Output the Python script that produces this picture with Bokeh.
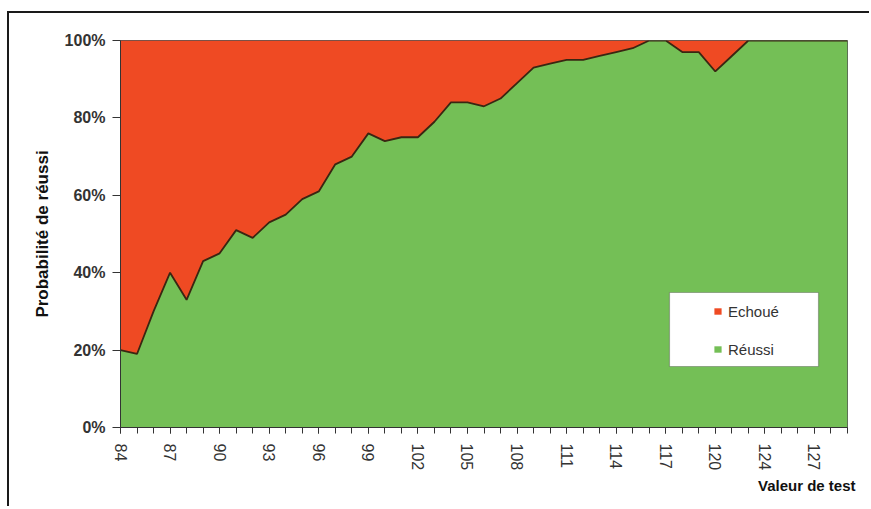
from bokeh.plotting import figure
from bokeh.models import (Range1d, FixedTicker, Legend, LegendItem, BoxAnnotation,
                          Title, PrintfTickFormatter)
from bokeh.embed import file_html
from bokeh.resources import INLINE

# ---- data -------------------------------------------------------------
categories = list(range(84, 121)) + [121, 122] + list(range(124, 130))
reussi = [20, 19, 30, 40, 33, 43, 45, 51, 49, 53, 55, 59, 61, 68, 70, 76, 74, 75,
          75, 79, 84, 84, 83, 85, 89, 93, 94, 95, 95, 96, 97, 98, 100, 100, 97, 97,
          92, 96, 100, 100, 100, 100, 100, 100, 100]
echoue = [80, 81, 70, 60, 67, 57, 55, 49, 51, 47, 45, 41, 39, 32, 30, 24, 26, 25,
          25, 21, 16, 16, 17, 15, 11, 7, 6, 5, 5, 4, 3, 2, 0, 0, 3, 3,
          8, 4, 0, 0, 0, 0, 0, 0, 0]
series_names = ["Echoué", "Réussi"]
y_ticks = [0, 20, 40, 60, 80, 100]
label_step = 3

FONT = "Liberation Sans"
RED = "#EF4A23"
GREEN = "#74BF56"

x = list(range(len(categories)))
bottom = [0] * len(x)
top_total = [r + e for r, e in zip(reussi, echoue)]

p = figure(width=862, height=495, output_backend="svg", toolbar_location=None,
           x_range=Range1d(0, len(categories) - 1), y_range=Range1d(0, 100),
           min_border_left=111, min_border_right=24, min_border_top=27,
           min_border_bottom=81,
           styles={"border-top": "2px solid #1a1a1a", "border-left": "2px solid #1a1a1a",
                   "margin-top": "11px", "margin-left": "7px"})
p.background_fill_color = "white"
p.border_fill_color = "white"
p.outline_line_color = "#555555"
p.outline_line_width = 1
p.xgrid.visible = False
p.ygrid.visible = False

r_ok = p.varea(x=x, y1=bottom, y2=reussi, fill_color=GREEN)
r_ko = p.varea(x=x, y1=reussi, y2=top_total, fill_color=RED)
p.line(x=x, y=reussi, line_color="#3a2612", line_width=1.8)

# ---- axes -------------------------------------------------------------
major = x[::label_step]
p.xaxis.ticker = FixedTicker(ticks=major, minor_ticks=x)
p.xaxis.major_label_overrides = {i: str(categories[i]) for i in major}
p.xaxis.major_label_orientation = "vertical"
p.xaxis.major_label_text_font = FONT
p.xaxis.major_label_text_font_size = "16px"
p.xaxis.major_label_text_color = "#333333"
p.xaxis.major_label_standoff = 10
p.xaxis.major_tick_out = 6
p.xaxis.major_tick_in = 0
p.xaxis.minor_tick_out = 6
p.xaxis.minor_tick_in = 0
p.xaxis.axis_line_color = "#333333"
p.xaxis.major_tick_line_color = "#333333"
p.xaxis.minor_tick_line_color = "#333333"

p.yaxis.ticker = FixedTicker(ticks=y_ticks, minor_ticks=[])
p.yaxis.formatter = PrintfTickFormatter(format="%d%%")
p.yaxis.major_label_text_font = FONT
p.yaxis.major_label_text_font_size = "16px"
p.yaxis.major_label_text_font_style = "bold"
p.yaxis.major_label_text_color = "#333333"
p.yaxis.major_label_standoff = 7
p.yaxis.major_tick_out = 8
p.yaxis.major_tick_in = 0
p.yaxis.axis_line_color = "#333333"
p.yaxis.major_tick_line_color = "#333333"
p.yaxis.axis_label = "Probabilité de réussi"
p.yaxis.axis_label_text_font = FONT
p.yaxis.axis_label_text_font_size = "17px"
p.yaxis.axis_label_text_font_style = "bold"
p.yaxis.axis_label_text_color = "#111111"
p.yaxis.axis_label_standoff = 10

xt = Title(text="Valeur de test", align="right", text_font=FONT, text_font_size="15px",
           text_font_style="bold", text_color="#111111", standoff=3, offset=-8)
p.add_layout(xt, "below")

# ---- legend -----------------------------------------------------------
box = BoxAnnotation(left=549, right=698, bottom=61, top=135,
                    left_units="screen", right_units="screen",
                    bottom_units="screen", top_units="screen",
                    fill_color="white", fill_alpha=1.0,
                    line_color="#222222", line_width=1.2)
p.add_layout(box)

legend = Legend(items=[LegendItem(label=series_names[0], renderers=[r_ko]),
                       LegendItem(label=series_names[1], renderers=[r_ok])],
                location=(593, 67), padding=0, margin=0, spacing=16,
                glyph_width=9, glyph_height=8, label_standoff=6, label_height=22,
                label_text_font=FONT, label_text_font_size="15px",
                label_text_color="#333333",
                border_line_color=None, background_fill_alpha=0)
p.add_layout(legend)

open("out.html", "w").write(file_html(p, INLINE))
